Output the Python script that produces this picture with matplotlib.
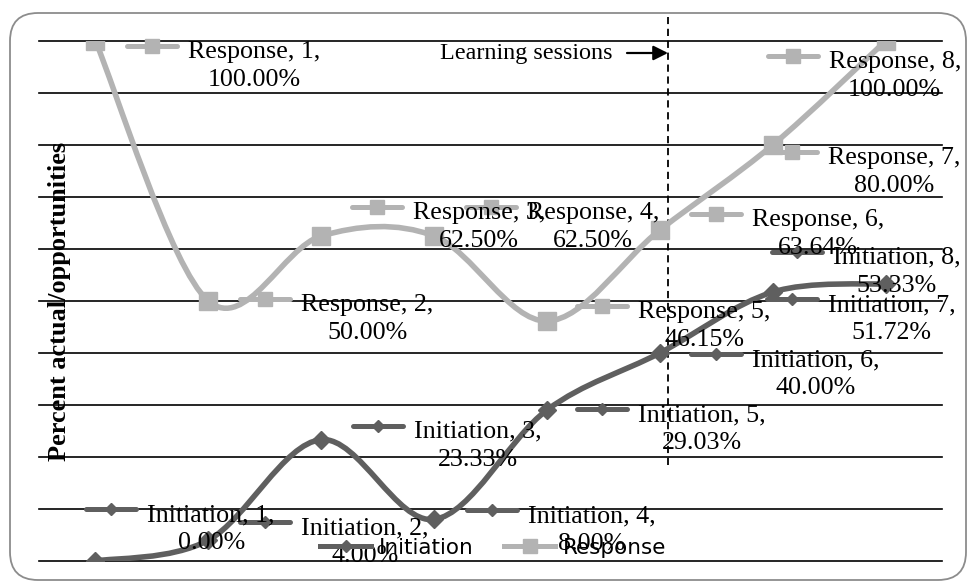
import numpy as np
import matplotlib
matplotlib.use('Agg')
import matplotlib.pyplot as plt
from matplotlib.path import Path
from matplotlib.patches import PathPatch, FancyBboxPatch
from matplotlib.lines import Line2D
from matplotlib.transforms import IdentityTransform

# data
sessions = [1, 2, 3, 4, 5, 6, 7, 8]
initiation = [0.00, 4.00, 23.33, 8.00, 29.03, 40.00, 51.72, 53.33]
response = [100.00, 50.00, 62.50, 62.50, 46.15, 63.64, 80.00, 100.00]
series_names = ['Initiation', 'Response']

dark = '#5f5f5f'
light = '#b3b3b3'

# where each data label sits, in pixels from its point (text left, first line centre, y down)
init_offsets = [(52, -49), (93, -15), (93, -11), (94, -6), (91, 2), (92, 4), (55, 10), (-53, -29)]
resp_offsets = [(93, 8), (93, 1), (92, -26), (93, -26), (91, -12), (92, -13), (55, 10), (-57, 18)]

plt.rcParams['font.family'] = ['Liberation Serif', 'DejaVu Serif']
ID = IdentityTransform()


def smooth_path(xs, ys):
    # Excel style smoothed line: catmull-rom turned into bezier segments
    pts = np.column_stack([xs, ys]).astype(float)
    ext = np.vstack([pts[0], pts, pts[-1]])
    verts = [pts[0]]
    codes = [Path.MOVETO]
    for i in range(len(pts) - 1):
        p0, p1, p2, p3 = ext[i], ext[i + 1], ext[i + 2], ext[i + 3]
        verts += [p1 + (p2 - p0) / 6, p2 - (p3 - p1) / 6, p2]
        codes += [Path.CURVE4] * 3
    return Path(verts, codes)


fig = plt.figure(figsize=(9.69, 5.84), dpi=100)
ax = fig.add_axes([39 / 969, 23 / 584, 903 / 969, 520 / 584])
ax.set_xlim(0.5, 8.5)
ax.set_ylim(0, 100)
ax.set_yticks(np.arange(0, 101, 10))
ax.set_xticks([])
ax.tick_params(length=0, labelleft=False)
ax.grid(axis='y', color='black', lw=1.2)
for gl in ax.get_ygridlines():
    gl.set_clip_on(False)
for s in ax.spines.values():
    s.set_visible(False)

# the two series
styles = [(initiation, dark, 'D', 9.0, 6.5), (response, light, 's', 13.0, 10.5)]
for vals, col, mk, ms, kms in styles:
    ax.add_patch(PathPatch(smooth_path(sessions, vals), fill=False, edgecolor=col,
                           lw=4, capstyle='round', joinstyle='round', zorder=2))
    ax.plot(sessions, vals, linestyle='none', marker=mk, ms=ms, color=col, zorder=3)

# learning sessions marker
ax.plot([6.07, 6.07], [18.5, 104.6], color='black', lw=1.3, dashes=(4, 2.6), clip_on=False, zorder=1)
fig.text(440, 531, 'Learning sessions', transform=ID, ha='left', va='center', fontsize=17.4)
ax.annotate('', xy=(668, 531), xytext=(627, 531), xycoords='figure pixels',
            arrowprops=dict(arrowstyle='-|>', mutation_scale=22, lw=1.6, color='black',
                            shrinkA=0, shrinkB=0))

# data labels with legend keys, Excel style
for name, vals, offs, (v_, col, mk, ms, kms) in zip(series_names, [initiation, response],
                                                     [init_offsets, resp_offsets], styles):
    for x, v, (dx, dy) in zip(sessions, vals, offs):
        px, py = ax.transData.transform((x, v))
        tx = px + dx
        ty = py - dy
        fig.add_artist(Line2D([tx - 61, tx - 11], [ty + 3, ty + 3], transform=ID,
                              color=col, lw=3.6, solid_capstyle='round'))
        fig.add_artist(Line2D([tx - 36], [ty + 3], transform=ID, marker=mk, ms=kms,
                              color=col, linestyle='none'))
        fig.text(tx, ty - 17, f'{name}, {x},\n{v:.2f}%', transform=ID, ha='left', va='center',
                 multialignment='center', fontsize=18.7, linespacing=1.35)

# y axis title
fig.text(60, 283, 'Percent actual/opportunities', transform=ID, rotation=90,
         ha='center', va='center', fontsize=19, fontweight='bold')

# legend
handles = [Line2D([], [], color=dark, lw=3.6, marker='D', ms=6.5),
           Line2D([], [], color=light, lw=3.6, marker='s', ms=10.5)]
fig.legend(handles, series_names, loc='center', bbox_to_anchor=(493 / 969, 36 / 584), ncol=2,
           frameon=False, prop={'family': 'DejaVu Sans', 'size': 15.5},
           handlelength=2.4, handletextpad=0.35, columnspacing=1.4)

# rounded chart border
fig.add_artist(FancyBboxPatch((10, 4), 956, 567, boxstyle='round,pad=0,rounding_size=28',
                              transform=ID, fill=False, edgecolor='#8c8c8c', lw=1.3))

fig.savefig('out.png', dpi=100)
